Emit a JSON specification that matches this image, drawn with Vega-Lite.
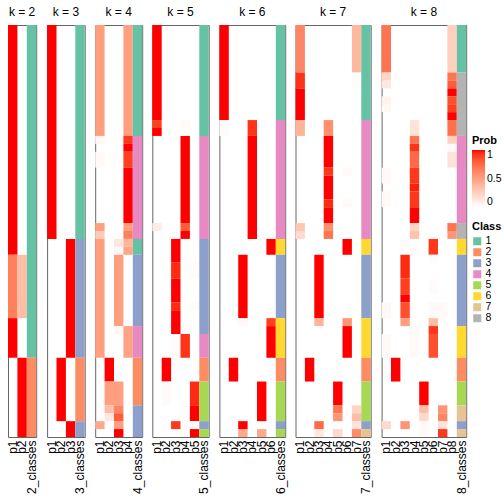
{
"$schema": "https://vega.github.io/schema/vega-lite/v6.json",
"padding": 5,
"bounds": "flush",
"spacing": 10.1,
"datasets": {"d": [
{"k":2,"c":"p1","a":0,"b":29,"v":1},
{"k":2,"c":"p1","a":29,"b":37,"v":0.65},
{"k":2,"c":"p1","a":37,"b":42,"v":1},
{"k":2,"c":"p2","a":29,"b":37,"v":0.35},
{"k":2,"c":"p2","a":42,"b":52,"v":1},
{"k":2,"c":"2_classes","a":0,"b":42,"cls":"1"},
{"k":2,"c":"2_classes","a":42,"b":52,"cls":"2"},

{"k":3,"c":"p1","a":0,"b":27,"v":1},
{"k":3,"c":"p2","a":42,"b":50,"v":1},
{"k":3,"c":"p3","a":27,"b":42,"v":1},
{"k":3,"c":"p3","a":50,"b":52,"v":1},
{"k":3,"c":"3_classes","a":0,"b":27,"cls":"1"},
{"k":3,"c":"3_classes","a":27,"b":42,"cls":"3"},
{"k":3,"c":"3_classes","a":42,"b":50,"cls":"2"},
{"k":3,"c":"3_classes","a":50,"b":52,"cls":"3"},

{"k":4,"c":"p1","a":0,"b":14,"v":0.5},
{"k":4,"c":"p1","a":14,"b":15,"v":0.04},
{"k":4,"c":"p1","a":16,"b":18,"v":0.03},
{"k":4,"c":"p1","a":25,"b":26,"v":0.5},
{"k":4,"c":"p1","a":26,"b":27,"v":0.28},
{"k":4,"c":"p1","a":27,"b":42,"v":0.5},
{"k":4,"c":"p1","a":50,"b":51,"v":0.45},
{"k":4,"c":"p2","a":42,"b":45,"v":1},
{"k":4,"c":"p2","a":45,"b":48,"v":0.5},
{"k":4,"c":"p2","a":48,"b":49,"v":0.35},
{"k":4,"c":"p2","a":49,"b":50,"v":0.12},
{"k":4,"c":"p3","a":27,"b":28,"v":0.13},
{"k":4,"c":"p3","a":28,"b":29,"v":0.04},
{"k":4,"c":"p3","a":29,"b":38,"v":0.5},
{"k":4,"c":"p3","a":38,"b":39,"v":0.04},
{"k":4,"c":"p3","a":45,"b":48,"v":0.5},
{"k":4,"c":"p3","a":48,"b":49,"v":0.62},
{"k":4,"c":"p3","a":49,"b":50,"v":0.8},
{"k":4,"c":"p3","a":50,"b":51,"v":0.5},
{"k":4,"c":"p3","a":51,"b":52,"v":1},
{"k":4,"c":"p4","a":0,"b":14,"v":0.5},
{"k":4,"c":"p4","a":14,"b":15,"v":0.92},
{"k":4,"c":"p4","a":15,"b":16,"v":1},
{"k":4,"c":"p4","a":16,"b":18,"v":0.9},
{"k":4,"c":"p4","a":18,"b":25,"v":1},
{"k":4,"c":"p4","a":25,"b":26,"v":0.5},
{"k":4,"c":"p4","a":26,"b":27,"v":0.65},
{"k":4,"c":"p4","a":27,"b":28,"v":0.4},
{"k":4,"c":"p4","a":28,"b":29,"v":0.47},
{"k":4,"c":"p4","a":38,"b":42,"v":0.48},
{"k":4,"c":"4_classes","a":0,"b":14,"cls":"1"},
{"k":4,"c":"4_classes","a":14,"b":27,"cls":"4"},
{"k":4,"c":"4_classes","a":27,"b":29,"cls":"1"},
{"k":4,"c":"4_classes","a":29,"b":38,"cls":"3"},
{"k":4,"c":"4_classes","a":38,"b":42,"cls":"4"},
{"k":4,"c":"4_classes","a":42,"b":48,"cls":"2"},
{"k":4,"c":"4_classes","a":48,"b":52,"cls":"3"},

{"k":5,"c":"p1","a":0,"b":12,"v":1},
{"k":5,"c":"p1","a":12,"b":13,"v":0.9},
{"k":5,"c":"p1","a":13,"b":14,"v":1},
{"k":5,"c":"p1","a":25,"b":26,"v":0.1},
{"k":5,"c":"p2","a":42,"b":45,"v":1},
{"k":5,"c":"p2","a":45,"b":48,"v":0.02},
{"k":5,"c":"p3","a":27,"b":30,"v":1},
{"k":5,"c":"p3","a":30,"b":32,"v":0.95},
{"k":5,"c":"p3","a":32,"b":35,"v":1},
{"k":5,"c":"p3","a":35,"b":36,"v":0.95},
{"k":5,"c":"p3","a":36,"b":39,"v":1},
{"k":5,"c":"p3","a":39,"b":42,"v":0.02},
{"k":5,"c":"p3","a":50,"b":51,"v":0.92},
{"k":5,"c":"p4","a":12,"b":13,"v":0.03},
{"k":5,"c":"p4","a":14,"b":25,"v":1},
{"k":5,"c":"p4","a":25,"b":26,"v":0.8},
{"k":5,"c":"p4","a":26,"b":27,"v":1},
{"k":5,"c":"p4","a":39,"b":42,"v":0.93},
{"k":5,"c":"p5","a":30,"b":32,"v":0.02},
{"k":5,"c":"p5","a":35,"b":36,"v":0.02},
{"k":5,"c":"p5","a":45,"b":48,"v":0.95},
{"k":5,"c":"p5","a":48,"b":50,"v":1},
{"k":5,"c":"p5","a":50,"b":51,"v":0.03},
{"k":5,"c":"p5","a":51,"b":52,"v":1},
{"k":5,"c":"5_classes","a":0,"b":14,"cls":"1"},
{"k":5,"c":"5_classes","a":14,"b":27,"cls":"4"},
{"k":5,"c":"5_classes","a":27,"b":39,"cls":"3"},
{"k":5,"c":"5_classes","a":39,"b":42,"cls":"4"},
{"k":5,"c":"5_classes","a":42,"b":45,"cls":"2"},
{"k":5,"c":"5_classes","a":45,"b":50,"cls":"5"},
{"k":5,"c":"5_classes","a":50,"b":51,"cls":"3"},
{"k":5,"c":"5_classes","a":51,"b":52,"cls":"5"},

{"k":6,"c":"p1","a":0,"b":12,"v":1},
{"k":6,"c":"p1","a":12,"b":14,"v":0.02},
{"k":6,"c":"p2","a":42,"b":45,"v":1},
{"k":6,"c":"p3","a":29,"b":37,"v":1},
{"k":6,"c":"p3","a":37,"b":38,"v":0.03},
{"k":6,"c":"p3","a":50,"b":51,"v":1},
{"k":6,"c":"p3","a":51,"b":52,"v":0.45},
{"k":6,"c":"p4","a":12,"b":14,"v":0.93},
{"k":6,"c":"p4","a":14,"b":27,"v":1},
{"k":6,"c":"p5","a":45,"b":50,"v":1},
{"k":6,"c":"p5","a":51,"b":52,"v":0.45},
{"k":6,"c":"p6","a":27,"b":29,"v":1},
{"k":6,"c":"p6","a":37,"b":38,"v":0.9},
{"k":6,"c":"p6","a":38,"b":42,"v":1},
{"k":6,"c":"6_classes","a":0,"b":12,"cls":"1"},
{"k":6,"c":"6_classes","a":12,"b":27,"cls":"4"},
{"k":6,"c":"6_classes","a":27,"b":29,"cls":"6"},
{"k":6,"c":"6_classes","a":29,"b":37,"cls":"3"},
{"k":6,"c":"6_classes","a":37,"b":42,"cls":"6"},
{"k":6,"c":"6_classes","a":42,"b":45,"cls":"2"},
{"k":6,"c":"6_classes","a":45,"b":50,"cls":"5"},
{"k":6,"c":"6_classes","a":50,"b":51,"cls":"3"},
{"k":6,"c":"6_classes","a":51,"b":52,"cls":"5"},

{"k":7,"c":"p1","a":0,"b":6,"v":0.62},
{"k":7,"c":"p1","a":6,"b":8,"v":0.93},
{"k":7,"c":"p1","a":8,"b":12,"v":1},
{"k":7,"c":"p1","a":12,"b":14,"v":0.4},
{"k":7,"c":"p1","a":25,"b":26,"v":0.3},
{"k":7,"c":"p1","a":26,"b":27,"v":0.2},
{"k":7,"c":"p2","a":42,"b":45,"v":1},
{"k":7,"c":"p3","a":29,"b":37,"v":1},
{"k":7,"c":"p3","a":37,"b":38,"v":0.4},
{"k":7,"c":"p3","a":50,"b":51,"v":0.75},
{"k":7,"c":"p3","a":51,"b":52,"v":0.12},
{"k":7,"c":"p4","a":12,"b":14,"v":0.58},
{"k":7,"c":"p4","a":14,"b":18,"v":1},
{"k":7,"c":"p4","a":18,"b":19,"v":0.92},
{"k":7,"c":"p4","a":19,"b":22,"v":1},
{"k":7,"c":"p4","a":22,"b":23,"v":0.95},
{"k":7,"c":"p4","a":23,"b":25,"v":1},
{"k":7,"c":"p4","a":25,"b":26,"v":0.58},
{"k":7,"c":"p4","a":26,"b":27,"v":0.7},
{"k":7,"c":"p5","a":45,"b":48,"v":1},
{"k":7,"c":"p5","a":48,"b":49,"v":0.7},
{"k":7,"c":"p5","a":49,"b":50,"v":0.55},
{"k":7,"c":"p5","a":51,"b":52,"v":0.2},
{"k":7,"c":"p6","a":18,"b":19,"v":0.03},
{"k":7,"c":"p6","a":22,"b":23,"v":0.03},
{"k":7,"c":"p6","a":27,"b":29,"v":1},
{"k":7,"c":"p6","a":37,"b":38,"v":0.55},
{"k":7,"c":"p6","a":38,"b":42,"v":1},
{"k":7,"c":"p7","a":0,"b":6,"v":0.38},
{"k":7,"c":"p7","a":6,"b":8,"v":0.02},
{"k":7,"c":"p7","a":48,"b":49,"v":0.22},
{"k":7,"c":"p7","a":49,"b":50,"v":0.35},
{"k":7,"c":"p7","a":50,"b":51,"v":0.15},
{"k":7,"c":"p7","a":51,"b":52,"v":0.6},
{"k":7,"c":"7_classes","a":0,"b":12,"cls":"1"},
{"k":7,"c":"7_classes","a":12,"b":27,"cls":"4"},
{"k":7,"c":"7_classes","a":27,"b":29,"cls":"6"},
{"k":7,"c":"7_classes","a":29,"b":37,"cls":"3"},
{"k":7,"c":"7_classes","a":37,"b":42,"cls":"6"},
{"k":7,"c":"7_classes","a":42,"b":45,"cls":"2"},
{"k":7,"c":"7_classes","a":45,"b":50,"cls":"5"},
{"k":7,"c":"7_classes","a":50,"b":51,"cls":"3"},
{"k":7,"c":"7_classes","a":51,"b":52,"cls":"7"},

{"k":8,"c":"p1","a":0,"b":6,"v":0.7},
{"k":8,"c":"p1","a":6,"b":7,"v":0.22},
{"k":8,"c":"p1","a":7,"b":8,"v":0.12},
{"k":8,"c":"p1","a":9,"b":10,"v":0.07},
{"k":8,"c":"p1","a":10,"b":11,"v":0.04},
{"k":8,"c":"p1","a":18,"b":20,"v":0.03},
{"k":8,"c":"p1","a":21,"b":23,"v":0.03},
{"k":8,"c":"p1","a":35,"b":37,"v":0.04},
{"k":8,"c":"p1","a":39,"b":42,"v":0.03},
{"k":8,"c":"p1","a":50,"b":51,"v":0.2},
{"k":8,"c":"p2","a":42,"b":45,"v":1},
{"k":8,"c":"p3","a":27,"b":28,"v":0.02},
{"k":8,"c":"p3","a":29,"b":32,"v":0.95},
{"k":8,"c":"p3","a":32,"b":34,"v":0.9},
{"k":8,"c":"p3","a":34,"b":35,"v":1},
{"k":8,"c":"p3","a":35,"b":37,"v":0.85},
{"k":8,"c":"p3","a":37,"b":38,"v":0.5},
{"k":8,"c":"p3","a":50,"b":51,"v":0.55},
{"k":8,"c":"p4","a":12,"b":14,"v":0.15},
{"k":8,"c":"p4","a":14,"b":15,"v":0.7},
{"k":8,"c":"p4","a":15,"b":16,"v":0.93},
{"k":8,"c":"p4","a":16,"b":18,"v":0.75},
{"k":8,"c":"p4","a":18,"b":20,"v":0.92},
{"k":8,"c":"p4","a":20,"b":21,"v":0.97},
{"k":8,"c":"p4","a":21,"b":23,"v":0.92},
{"k":8,"c":"p4","a":23,"b":25,"v":1},
{"k":8,"c":"p4","a":25,"b":26,"v":0.22},
{"k":8,"c":"p4","a":26,"b":27,"v":0.32},
{"k":8,"c":"p4","a":28,"b":29,"v":0.02},
{"k":8,"c":"p4","a":38,"b":42,"v":0.03},
{"k":8,"c":"p5","a":45,"b":48,"v":1},
{"k":8,"c":"p5","a":48,"b":49,"v":0.35},
{"k":8,"c":"p5","a":49,"b":50,"v":0.2},
{"k":8,"c":"p5","a":50,"b":52,"v":0.03},
{"k":8,"c":"p6","a":27,"b":29,"v":0.92},
{"k":8,"c":"p6","a":29,"b":30,"v":0.02},
{"k":8,"c":"p6","a":32,"b":34,"v":0.02},
{"k":8,"c":"p6","a":35,"b":37,"v":0.03},
{"k":8,"c":"p6","a":37,"b":38,"v":0.35},
{"k":8,"c":"p6","a":38,"b":39,"v":0.92},
{"k":8,"c":"p6","a":39,"b":42,"v":0.85},
{"k":8,"c":"p7","a":35,"b":37,"v":0.03},
{"k":8,"c":"p7","a":48,"b":49,"v":0.55},
{"k":8,"c":"p7","a":49,"b":50,"v":0.62},
{"k":8,"c":"p7","a":50,"b":51,"v":0.15},
{"k":8,"c":"p7","a":51,"b":52,"v":0.92},
{"k":8,"c":"p8","a":0,"b":6,"v":0.25},
{"k":8,"c":"p8","a":6,"b":7,"v":0.7},
{"k":8,"c":"p8","a":7,"b":8,"v":0.8},
{"k":8,"c":"p8","a":8,"b":9,"v":1},
{"k":8,"c":"p8","a":9,"b":10,"v":0.85},
{"k":8,"c":"p8","a":10,"b":11,"v":0.9},
{"k":8,"c":"p8","a":11,"b":12,"v":1},
{"k":8,"c":"p8","a":12,"b":14,"v":0.72},
{"k":8,"c":"p8","a":14,"b":15,"v":0.25},
{"k":8,"c":"p8","a":15,"b":16,"v":0.03},
{"k":8,"c":"p8","a":16,"b":18,"v":0.15},
{"k":8,"c":"p8","a":25,"b":26,"v":0.7},
{"k":8,"c":"p8","a":26,"b":27,"v":0.55},
{"k":8,"c":"8_classes","a":0,"b":6,"cls":"1"},
{"k":8,"c":"8_classes","a":6,"b":14,"cls":"8"},
{"k":8,"c":"8_classes","a":14,"b":25,"cls":"4"},
{"k":8,"c":"8_classes","a":25,"b":27,"cls":"8"},
{"k":8,"c":"8_classes","a":27,"b":29,"cls":"6"},
{"k":8,"c":"8_classes","a":29,"b":38,"cls":"3"},
{"k":8,"c":"8_classes","a":38,"b":42,"cls":"6"},
{"k":8,"c":"8_classes","a":42,"b":45,"cls":"2"},
{"k":8,"c":"8_classes","a":45,"b":48,"cls":"5"},
{"k":8,"c":"8_classes","a":48,"b":50,"cls":"7"},
{"k":8,"c":"8_classes","a":50,"b":51,"cls":"3"},
{"k":8,"c":"8_classes","a":51,"b":52,"cls":"7"}
]},
"hconcat": [
{"title":"k = 2","width":28.2,"height":412,"data":{"name":"d"},"transform":[{"filter":"datum.k == 2"}],
 "encoding":{"x":{"field":"c","type":"nominal","sort":["p1","p2","2_classes"],"scale":{"domain":["p1","p2","2_classes"],"paddingInner":0,"paddingOuter":0},"title":null},
  "y":{"field":"a","type":"quantitative","scale":{"domain":[0,52],"reverse":true,"nice":false,"zero":false},"axis":null},"y2":{"field":"b"}},
 "layer":[
  {"transform":[{"filter":"isValid(datum.v)"}],"mark":{"type":"rect"},"encoding":{"color":{"field":"v","type":"quantitative","scale":{"type":"linear","domain":[0,1],"range":["#FFFFFF","#FF0000"],"interpolate":"lab"},"legend":{"title":"Prob","orient":"none","legendX":464,"legendY":110,"values":[0,0.5,1],"format":"~g","gradientLength":57,"gradientThickness":13,"direction":"vertical"}}}},
  {"transform":[{"filter":"isValid(datum.cls)"}],"mark":{"type":"rect"},"encoding":{"fill":{"field":"cls","type":"nominal","scale":{"domain":["1","2","3","4","5","6","7","8"],"range":["#66C2A5","#FC8D62","#8DA0CB","#E78AC3","#A6D854","#FFD92F","#E5C494","#B3B3B3"]},"legend":{"title":"Class","orient":"none","legendX":464,"legendY":196,"symbolType":"square","symbolSize":64}}}}
 ]},
{"title":"k = 3","width":37.6,"height":412,"data":{"name":"d"},"transform":[{"filter":"datum.k == 3"}],
 "encoding":{"x":{"field":"c","type":"nominal","sort":["p1","p2","p3","3_classes"],"scale":{"domain":["p1","p2","p3","3_classes"],"paddingInner":0,"paddingOuter":0},"title":null},
  "y":{"field":"a","type":"quantitative","scale":{"domain":[0,52],"reverse":true,"nice":false,"zero":false},"axis":null},"y2":{"field":"b"}},
 "layer":[
  {"transform":[{"filter":"isValid(datum.v)"}],"mark":{"type":"rect"},"encoding":{"color":{"field":"v","type":"quantitative","scale":{"type":"linear","domain":[0,1],"range":["#FFFFFF","#FF0000"],"interpolate":"lab"},"legend":{"title":"Prob","orient":"none","legendX":464,"legendY":110,"values":[0,0.5,1],"format":"~g","gradientLength":57,"gradientThickness":13,"direction":"vertical"}}}},
  {"transform":[{"filter":"isValid(datum.cls)"}],"mark":{"type":"rect"},"encoding":{"fill":{"field":"cls","type":"nominal","scale":{"domain":["1","2","3","4","5","6","7","8"],"range":["#66C2A5","#FC8D62","#8DA0CB","#E78AC3","#A6D854","#FFD92F","#E5C494","#B3B3B3"]},"legend":{"title":"Class","orient":"none","legendX":464,"legendY":196,"symbolType":"square","symbolSize":64}}}}
 ]},
{"title":"k = 4","width":47,"height":412,"data":{"name":"d"},"transform":[{"filter":"datum.k == 4"}],
 "encoding":{"x":{"field":"c","type":"nominal","sort":["p1","p2","p3","p4","4_classes"],"scale":{"domain":["p1","p2","p3","p4","4_classes"],"paddingInner":0,"paddingOuter":0},"title":null},
  "y":{"field":"a","type":"quantitative","scale":{"domain":[0,52],"reverse":true,"nice":false,"zero":false},"axis":null},"y2":{"field":"b"}},
 "layer":[
  {"transform":[{"filter":"isValid(datum.v)"}],"mark":{"type":"rect"},"encoding":{"color":{"field":"v","type":"quantitative","scale":{"type":"linear","domain":[0,1],"range":["#FFFFFF","#FF0000"],"interpolate":"lab"},"legend":{"title":"Prob","orient":"none","legendX":464,"legendY":110,"values":[0,0.5,1],"format":"~g","gradientLength":57,"gradientThickness":13,"direction":"vertical"}}}},
  {"transform":[{"filter":"isValid(datum.cls)"}],"mark":{"type":"rect"},"encoding":{"fill":{"field":"cls","type":"nominal","scale":{"domain":["1","2","3","4","5","6","7","8"],"range":["#66C2A5","#FC8D62","#8DA0CB","#E78AC3","#A6D854","#FFD92F","#E5C494","#B3B3B3"]},"legend":{"title":"Class","orient":"none","legendX":464,"legendY":196,"symbolType":"square","symbolSize":64}}}}
 ]},
{"title":"k = 5","width":56.4,"height":412,"data":{"name":"d"},"transform":[{"filter":"datum.k == 5"}],
 "encoding":{"x":{"field":"c","type":"nominal","sort":["p1","p2","p3","p4","p5","5_classes"],"scale":{"domain":["p1","p2","p3","p4","p5","5_classes"],"paddingInner":0,"paddingOuter":0},"title":null},
  "y":{"field":"a","type":"quantitative","scale":{"domain":[0,52],"reverse":true,"nice":false,"zero":false},"axis":null},"y2":{"field":"b"}},
 "layer":[
  {"transform":[{"filter":"isValid(datum.v)"}],"mark":{"type":"rect"},"encoding":{"color":{"field":"v","type":"quantitative","scale":{"type":"linear","domain":[0,1],"range":["#FFFFFF","#FF0000"],"interpolate":"lab"},"legend":{"title":"Prob","orient":"none","legendX":464,"legendY":110,"values":[0,0.5,1],"format":"~g","gradientLength":57,"gradientThickness":13,"direction":"vertical"}}}},
  {"transform":[{"filter":"isValid(datum.cls)"}],"mark":{"type":"rect"},"encoding":{"fill":{"field":"cls","type":"nominal","scale":{"domain":["1","2","3","4","5","6","7","8"],"range":["#66C2A5","#FC8D62","#8DA0CB","#E78AC3","#A6D854","#FFD92F","#E5C494","#B3B3B3"]},"legend":{"title":"Class","orient":"none","legendX":464,"legendY":196,"symbolType":"square","symbolSize":64}}}}
 ]},
{"title":"k = 6","width":65.8,"height":412,"data":{"name":"d"},"transform":[{"filter":"datum.k == 6"}],
 "encoding":{"x":{"field":"c","type":"nominal","sort":["p1","p2","p3","p4","p5","p6","6_classes"],"scale":{"domain":["p1","p2","p3","p4","p5","p6","6_classes"],"paddingInner":0,"paddingOuter":0},"title":null},
  "y":{"field":"a","type":"quantitative","scale":{"domain":[0,52],"reverse":true,"nice":false,"zero":false},"axis":null},"y2":{"field":"b"}},
 "layer":[
  {"transform":[{"filter":"isValid(datum.v)"}],"mark":{"type":"rect"},"encoding":{"color":{"field":"v","type":"quantitative","scale":{"type":"linear","domain":[0,1],"range":["#FFFFFF","#FF0000"],"interpolate":"lab"},"legend":{"title":"Prob","orient":"none","legendX":464,"legendY":110,"values":[0,0.5,1],"format":"~g","gradientLength":57,"gradientThickness":13,"direction":"vertical"}}}},
  {"transform":[{"filter":"isValid(datum.cls)"}],"mark":{"type":"rect"},"encoding":{"fill":{"field":"cls","type":"nominal","scale":{"domain":["1","2","3","4","5","6","7","8"],"range":["#66C2A5","#FC8D62","#8DA0CB","#E78AC3","#A6D854","#FFD92F","#E5C494","#B3B3B3"]},"legend":{"title":"Class","orient":"none","legendX":464,"legendY":196,"symbolType":"square","symbolSize":64}}}}
 ]},
{"title":"k = 7","width":75.2,"height":412,"data":{"name":"d"},"transform":[{"filter":"datum.k == 7"}],
 "encoding":{"x":{"field":"c","type":"nominal","sort":["p1","p2","p3","p4","p5","p6","p7","7_classes"],"scale":{"domain":["p1","p2","p3","p4","p5","p6","p7","7_classes"],"paddingInner":0,"paddingOuter":0},"title":null},
  "y":{"field":"a","type":"quantitative","scale":{"domain":[0,52],"reverse":true,"nice":false,"zero":false},"axis":null},"y2":{"field":"b"}},
 "layer":[
  {"transform":[{"filter":"isValid(datum.v)"}],"mark":{"type":"rect"},"encoding":{"color":{"field":"v","type":"quantitative","scale":{"type":"linear","domain":[0,1],"range":["#FFFFFF","#FF0000"],"interpolate":"lab"},"legend":{"title":"Prob","orient":"none","legendX":464,"legendY":110,"values":[0,0.5,1],"format":"~g","gradientLength":57,"gradientThickness":13,"direction":"vertical"}}}},
  {"transform":[{"filter":"isValid(datum.cls)"}],"mark":{"type":"rect"},"encoding":{"fill":{"field":"cls","type":"nominal","scale":{"domain":["1","2","3","4","5","6","7","8"],"range":["#66C2A5","#FC8D62","#8DA0CB","#E78AC3","#A6D854","#FFD92F","#E5C494","#B3B3B3"]},"legend":{"title":"Class","orient":"none","legendX":464,"legendY":196,"symbolType":"square","symbolSize":64}}}}
 ]},
{"title":"k = 8","width":84.6,"height":412,"data":{"name":"d"},"transform":[{"filter":"datum.k == 8"}],
 "encoding":{"x":{"field":"c","type":"nominal","sort":["p1","p2","p3","p4","p5","p6","p7","p8","8_classes"],"scale":{"domain":["p1","p2","p3","p4","p5","p6","p7","p8","8_classes"],"paddingInner":0,"paddingOuter":0},"title":null},
  "y":{"field":"a","type":"quantitative","scale":{"domain":[0,52],"reverse":true,"nice":false,"zero":false},"axis":null},"y2":{"field":"b"}},
 "layer":[
  {"transform":[{"filter":"isValid(datum.v)"}],"mark":{"type":"rect"},"encoding":{"color":{"field":"v","type":"quantitative","scale":{"type":"linear","domain":[0,1],"range":["#FFFFFF","#FF0000"],"interpolate":"lab"},"legend":{"title":"Prob","orient":"none","legendX":464,"legendY":110,"values":[0,0.5,1],"format":"~g","gradientLength":57,"gradientThickness":13,"direction":"vertical"}}}},
  {"transform":[{"filter":"isValid(datum.cls)"}],"mark":{"type":"rect"},"encoding":{"fill":{"field":"cls","type":"nominal","scale":{"domain":["1","2","3","4","5","6","7","8"],"range":["#66C2A5","#FC8D62","#8DA0CB","#E78AC3","#A6D854","#FFD92F","#E5C494","#B3B3B3"]},"legend":{"title":"Class","orient":"none","legendX":464,"legendY":196,"symbolType":"square","symbolSize":64}}}}
 ]}
],
"resolve": {"scale": {"color": "shared", "fill": "shared"}, "legend": {"color": "shared", "fill": "shared"}},
"config": {
 "font": "Liberation Sans",
 "view": {"stroke": "#666666", "strokeWidth": 1},
 "title": {"fontSize": 12, "fontWeight": "normal", "color": "#000000", "offset": 6, "anchor": "middle"},
 "axisX": {"labelAngle": -90, "labelFontSize": 12, "labelColor": "#000000", "ticks": false, "domain": false, "labelPadding": 3, "labelOverlap": false, "labelBound": false},
 "legend": {"titleFontSize": 11, "titleFontWeight": "bold", "titleColor": "#000000", "labelFontSize": 10.5, "labelColor": "#000000", "padding": 0, "titlePadding": 4, "rowPadding": -1.4, "symbolStrokeWidth": 0, "gradientStrokeWidth": 0, "labelOffset": 3},
 "rect": {"strokeWidth": 0}
}
}
